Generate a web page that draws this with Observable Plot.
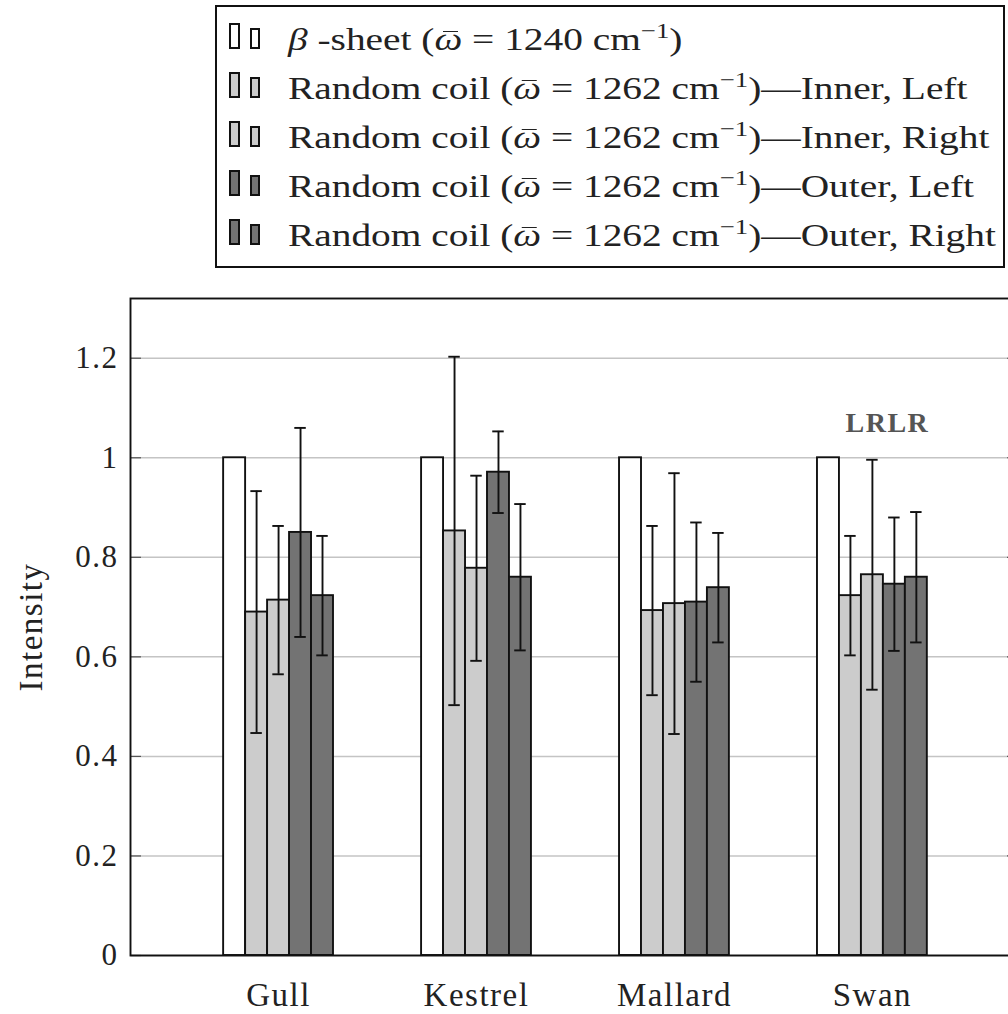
<!DOCTYPE html>
<html><head><meta charset="utf-8">
<script src="https://cdn.jsdelivr.net/npm/d3@7"></script>
<script src="https://cdn.jsdelivr.net/npm/@observablehq/plot@0.6"></script>
<style>
html,body{margin:0;padding:0;background:#fff;overflow:hidden;width:1008px;height:1014px;}
#wrap{position:relative;width:1008px;height:1014px;overflow:hidden;}
#legend{position:absolute;left:215px;top:5px;width:790px;height:263px;border:2px solid #111;box-sizing:border-box;font-family:"Liberation Serif",serif;font-size:31.5px;color:#222;}
.row{position:absolute;left:0;height:40px;line-height:40px;white-space:nowrap;}
.sw{position:absolute;left:12px;top:3.5px;width:11px;height:26px;border:2px solid #111;box-sizing:border-box;}
.sw2{position:absolute;left:33px;top:8.5px;width:10px;height:21px;border:2px solid #111;box-sizing:border-box;}
.lbl{position:absolute;left:71px;top:0;display:inline-block;transform:scaleX(1.25);transform-origin:0 50%;}
sup{font-size:0.68em;vertical-align:0;position:relative;top:-0.55em;line-height:0;}
.ob{font-style:italic;position:relative;display:inline-block;}
.ob::before{content:"";position:absolute;left:30%;right:15%;top:0.36em;border-top:1.5px solid #222;}
#chart{position:absolute;left:0;top:270px;}
#chart svg, #chart svg text{font-family:"Liberation Serif", serif !important;}
#chart svg text{letter-spacing:1.5px;}
</style></head>
<body><div id="wrap"><div id="legend"></div><div id="chart"></div></div>
<script>
const groups = ["Gull", "Kestrel", "Mallard", "Swan"];
const seriesKeys = ["beta", "innerLeft", "innerRight", "outerLeft", "outerRight"];
const seriesLabels = [
  "<i>β</i> -sheet (<span class=\"ob\">ω</span> = 1240 cm<sup>−1</sup>)",
  "Random coil (<span class=\"ob\">ω</span> = 1262 cm<sup>−1</sup>)—Inner, Left",
  "Random coil (<span class=\"ob\">ω</span> = 1262 cm<sup>−1</sup>)—Inner, Right",
  "Random coil (<span class=\"ob\">ω</span> = 1262 cm<sup>−1</sup>)—Outer, Left",
  "Random coil (<span class=\"ob\">ω</span> = 1262 cm<sup>−1</sup>)—Outer, Right"
];
const seriesColors = ["#ffffff", "#cccccc", "#cccccc", "#737373", "#737373"];

const betaSheet     = [1, 1, 1, 1];
const betaSheetErr  = [null, null, null, null];
const innerLeft     = [0.690, 0.853, 0.693, 0.723];
const innerLeftErr  = [0.243, 0.350, 0.170, 0.120];
const innerRight    = [0.714, 0.778, 0.707, 0.765];
const innerRightErr = [0.149, 0.186, 0.262, 0.231];
const outerLeft     = [0.850, 0.971, 0.710, 0.746];
const outerLeftErr  = [0.210, 0.082, 0.160, 0.134];
const outerRight    = [0.723, 0.760, 0.739, 0.760];
const outerRightErr = [0.120, 0.147, 0.110, 0.131];

const yTicks = [0, 0.2, 0.4, 0.6, 0.8, 1, 1.2];
const yLabel = "Intensity";
const annotations = [{group: "Swan", y: 1.07, text: "LRLR"}];

const seriesValues = [betaSheet, innerLeft, innerRight, outerLeft, outerRight];
const seriesErrors = [betaSheetErr, innerLeftErr, innerRightErr, outerLeftErr, outerRightErr];

// layout in group units (one unit = distance between group centres)
const barW = 0.111, capHalf = 0.029;
const table = [];
groups.forEach((g, gi) => {
  seriesKeys.forEach((s, si) => {
    const v = seriesValues[si][gi];
    const e = seriesErrors[si][gi];
    const x1 = gi + (si - seriesKeys.length / 2) * barW;
    table.push({group: g, gi, series: s, value: v, color: seriesColors[si],
      x1, x2: x1 + barW, xc: x1 + barW / 2,
      lo: e == null ? null : v - e, hi: e == null ? null : v + e});
  });
});
const errTable = table.filter(d => d.lo != null);
const annData = annotations.map(a => ({...a, gi: groups.indexOf(a.group)}));

// Legend
const legend = document.getElementById("legend");
const rowTops = [12.5, 61.5, 110.5, 159.5, 208.5];
seriesLabels.forEach((lab, i) => {
  const row = document.createElement("div");
  row.className = "row";
  row.style.top = rowTops[i] + "px";
  row.style.left = "0px";
  row.style.width = "780px";
  row.innerHTML = `<div class="sw" style="background:${seriesColors[i]}"></div><div class="sw2" style="background:${seriesColors[i]}"></div><div class="lbl">${lab}</div>`;
  legend.appendChild(row);
});

const chart = Plot.plot({
  width: 1017, height: 744,
  marginLeft: 130, marginRight: 0, marginTop: 28, marginBottom: 59,
  style: {fontFamily: "'Liberation Serif', serif", background: "transparent", maxWidth: "none", color: "#222"},
  x: {type: "linear", domain: [-0.748, 3.733], axis: null},
  y: {domain: [0, 1.32], axis: null},
  color: {type: "identity"},
  marks: [
    Plot.gridY(yTicks, {stroke: "#c4c4c4", strokeOpacity: 1, strokeWidth: 1.5}),
    Plot.axisY(yTicks, {anchor: "right", frameAnchor: "left", tickSize: 10, tickFormat: () => "", label: null, stroke: "#555", strokeWidth: 1.2}),
    Plot.axisY(yTicks, {anchor: "left", frameAnchor: "right", tickSize: 10, tickFormat: () => "", label: null, stroke: "#555", strokeWidth: 1.2}),
    Plot.rectY(table, {x1: "x1", x2: "x2", y: "value", fill: "color", stroke: "#111", strokeWidth: 1.9}),
    Plot.ruleX(errTable, {x: "xc", y1: "lo", y2: "hi", stroke: "#111", strokeWidth: 1.9}),
    Plot.ruleY(errTable, {y: "lo", x1: d => d.xc - capHalf, x2: d => d.xc + capHalf, stroke: "#111", strokeWidth: 1.9}),
    Plot.ruleY(errTable, {y: "hi", x1: d => d.xc - capHalf, x2: d => d.xc + capHalf, stroke: "#111", strokeWidth: 1.9}),
    Plot.text(annData, {x: "gi", y: "y", text: "text", dx: 15, fontSize: 28, fill: "#555", fontWeight: "bold"}),
    Plot.axisY(yTicks, {tickSize: 0, tickPadding: 12, fontSize: 31, tickFormat: d => `${d}`, label: null}),
    Plot.text([yLabel], {frameAnchor: "left", textAnchor: "middle", rotate: -90, dx: -99, fontSize: 33}),
    Plot.axisX(groups.map((g, i) => i), {tickFormat: i => groups[i], tickSize: 0, tickPadding: 27, fontSize: 33, label: null}),
    Plot.frame({stroke: "#111", strokeWidth: 1.9})
  ]
});
document.getElementById("chart").appendChild(chart);
</script>
</body></html>
